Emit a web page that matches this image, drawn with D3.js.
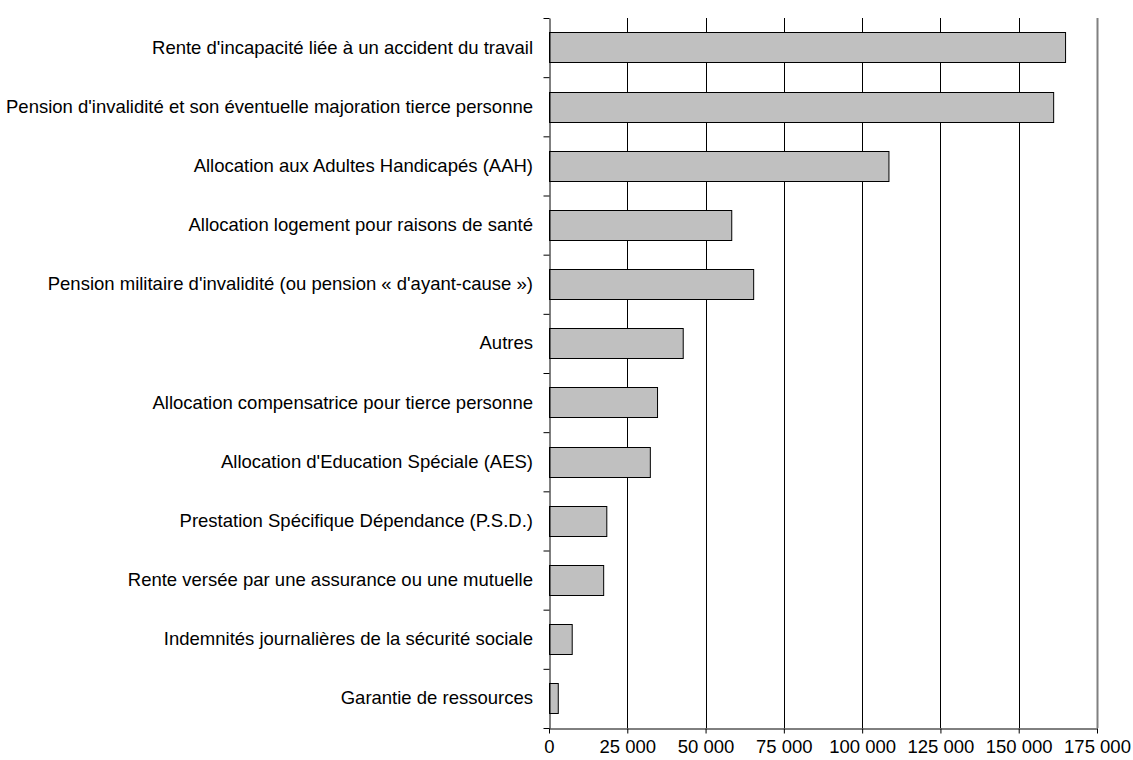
<!DOCTYPE html>
<html>
<head>
<meta charset="utf-8">
<script src="https://cdn.jsdelivr.net/npm/d3@7"></script>
<style>
    body { margin: 0; background: #fff; overflow: hidden; }
    text { font-family: "Liberation Sans", Arial, sans-serif; fill: #000; }
</style>
</head>
<body>
<div id="chart"></div>
<script>

// categories, top to bottom
let categories = [
    "Rente d'incapacité liée à un accident du travail",
    "Pension d'invalidité et son éventuelle majoration tierce personne",
    "Allocation aux Adultes Handicapés (AAH)",
    "Allocation logement pour raisons de santé",
    "Pension militaire d'invalidité (ou pension « d'ayant-cause »)",
    "Autres",
    "Allocation compensatrice pour tierce personne",
    "Allocation d'Education Spéciale (AES)",
    "Prestation Spécifique Dépendance (P.S.D.)",
    "Rente versée par une assurance ou une mutuelle",
    "Indemnités journalières de la sécurité sociale",
    "Garantie de ressources"
];

// number of people per benefit
let values = [164800, 161000, 108400, 58200, 65200, 42700, 34500, 32200, 18300, 17300, 7250, 2800];

// x axis ticks
let xTicks = [0, 25000, 50000, 75000, 100000, 125000, 150000, 175000];

let data = categories.map((c, i) => ({name: c, value: values[i]}));

let margin = {top: 18, right: 36, bottom: 32, left: 549};
let width = 1133 - margin.left - margin.right;
let height = 760 - margin.top - margin.bottom;

let svg = d3.select("#chart").append("svg")
    .attr("width", 1133)
    .attr("height", 760)
    .append("g")
    .attr("transform", "translate(" + margin.left + "," + margin.top + ")");

// Scales
let x = d3.scaleLinear()
    .domain([0, 175000])
    .range([0, width]);

let y = d3.scaleBand()
    .domain(categories)
    .range([0, height])
    .paddingInner(0.49)
    .paddingOuter(0.245);

// boundaries between categories, for the tick marks
let yEdges = d3.scaleLinear()
    .domain([0, categories.length])
    .range([0, height]);

// vertical gridlines
svg.append("g")
    .attr("class", "grid")
    .selectAll("line")
    .data(xTicks.slice(1))
    .enter().append("line")
    .attr("x1", d => Math.round(x(d)) + 0.5)
    .attr("x2", d => Math.round(x(d)) + 0.5)
    .attr("y1", 0)
    .attr("y2", height)
    .attr("stroke", d => d === 175000 ? "#808080" : "#000")
    .attr("stroke-width", d => d === 175000 ? 2 : 1);

// bars
svg.selectAll(".bar")
    .data(data)
    .enter().append("rect")
    .attr("class", "bar")
    .attr("x", x(0) + 0.5)
    .attr("y", d => Math.round(y(d.name)) + 0.5)
    .attr("width", d => x(d.value) - x(0))
    .attr("height", Math.round(y.bandwidth()))
    .attr("fill", "#c0c0c0")
    .attr("stroke", "#000")
    .attr("stroke-width", 1);

// y axis: labels
let yAxis = d3.axisLeft(y).tickSize(0).tickPadding(16);
let gy = svg.append("g").attr("class", "y-axis").call(yAxis);
gy.select(".domain").remove();
gy.selectAll("text").style("font-size", "18.5px");

// y axis: line and boundary ticks
let yEdgeAxis = d3.axisLeft(yEdges)
    .tickValues(d3.range(categories.length + 1))
    .tickFormat("")
    .tickSize(6)
    .tickSizeOuter(0);
svg.append("g")
    .attr("class", "y-edges")
    .attr("transform", "translate(0.5,0)")
    .call(yEdgeAxis)
    .selectAll("line, path").attr("stroke", "#000");

// x axis
let fmt = d3.format(",");
let xAxis = d3.axisBottom(x)
    .tickValues(xTicks)
    .tickFormat(d => fmt(d).replace(/,/g, " "))
    .tickSize(5)
    .tickSizeOuter(0)
    .tickPadding(6);
let gx = svg.append("g")
    .attr("class", "x-axis")
    .attr("transform", "translate(0," + (height + 0.5) + ")")
    .call(xAxis);
gx.selectAll("text").style("font-size", "18.5px");
gx.selectAll("line, path").attr("stroke", "#000");

</script>
</body>
</html>
